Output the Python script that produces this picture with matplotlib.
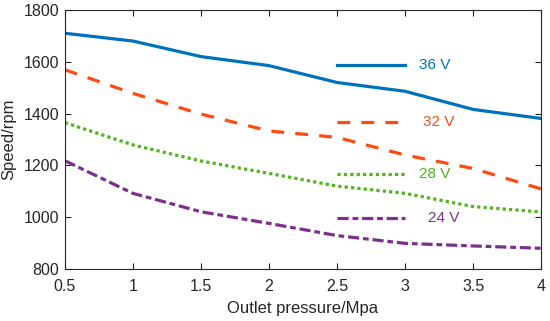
import matplotlib.pyplot as plt

plt.rcParams['font.family'] = ['Liberation Sans', 'DejaVu Sans']

pressure = [0.5, 1.0, 1.5, 2.0, 2.5, 3.0, 3.5, 4.0]
speed_36v = [1710, 1680, 1620, 1585, 1520, 1486, 1416, 1381]
speed_32v = [1569, 1478, 1398, 1333, 1308, 1240, 1188, 1109]
speed_28v = [1365, 1279, 1217, 1169, 1120, 1092, 1041, 1020]
speed_24v = [1218, 1092, 1021, 976, 929, 899, 889, 880]
labels = ['36 V', '32 V', '28 V', '24 V']
label_y = [1588, 1366, 1168, 996]
label_x = [3.1, 3.13, 3.1, 3.17]
seg_end = [3.0, 2.95, 3.0, 3.0]

colors = ['#0072BD', '#FF4A10', '#4DB619', '#7E2F8E']
styles = ['-', (0, (4, 3.5)), (0, (1, 1)), (0, (3.5, 1.2, 1.8, 1.2))]

fig = plt.figure(figsize=(5.5, 3.21), dpi=100)
ax = fig.add_axes([0.118, 0.162, 0.866, 0.807])

series = [speed_36v, speed_32v, speed_28v, speed_24v]
for s, c, ls, lab, ly, lx, se in zip(series, colors, styles, labels, label_y, label_x, seg_end):
    ax.plot(pressure, s, color=c, linestyle=ls, linewidth=2.3)
    ax.plot([2.5, se], [ly, ly], color=c, linestyle=ls, linewidth=2.3)
    ax.text(lx, ly, lab, color=c, fontsize=11, va='center', ha='left')

ax.set_xlim(0.5, 4)
ax.set_ylim(800, 1800)
ax.set_xticks([0.5, 1, 1.5, 2, 2.5, 3, 3.5, 4])
ax.set_xticklabels(['0.5', '1', '1.5', '2', '2.5', '3', '3.5', '4'])
ax.set_yticks([800, 1000, 1200, 1400, 1600, 1800])
ax.tick_params(direction='in', top=True, right=True, labelsize=11.5, length=4,
               color='#262626', labelcolor='#262626')
ax.tick_params(axis='x', pad=7)
ax.tick_params(axis='y', pad=4)
for sp in ax.spines.values():
    sp.set_color('#262626')
    sp.set_linewidth(0.8)
ax.set_xlabel('Outlet pressure/Mpa', fontsize=12, color='#262626', labelpad=5)
ax.set_ylabel('Speed/rpm', fontsize=12, color='#262626', labelpad=5)

fig.savefig('out.png', dpi=100)
